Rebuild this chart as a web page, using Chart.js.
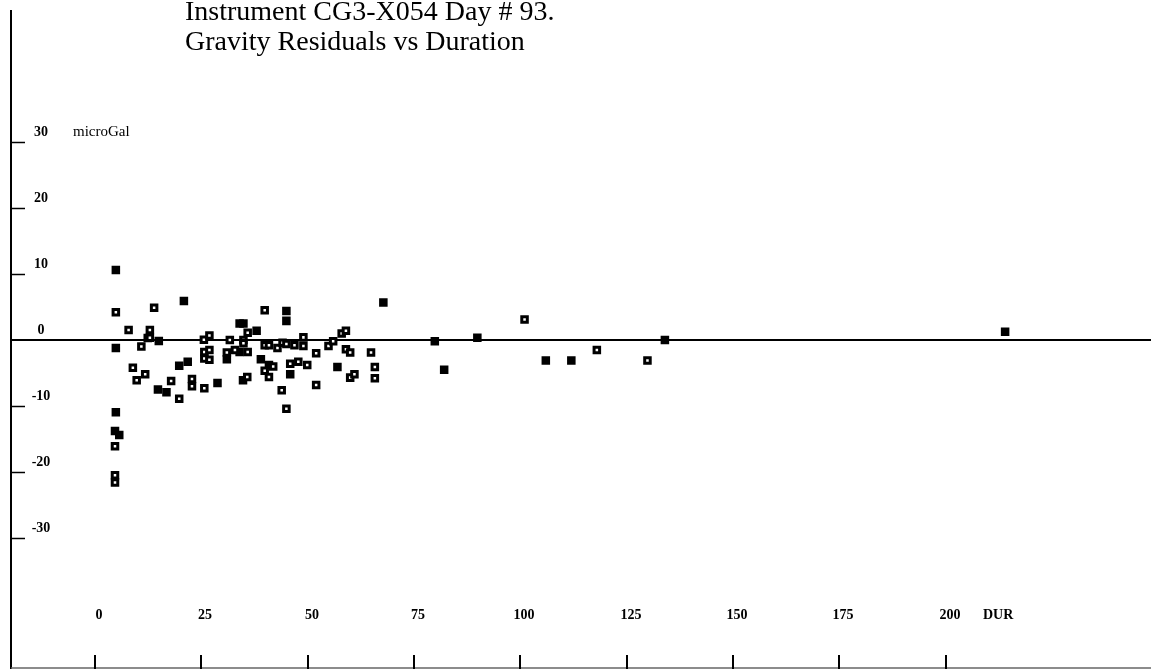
<!DOCTYPE html>
<html>
<head>
<meta charset="utf-8">
<script src="https://cdn.jsdelivr.net/npm/chart.js@4"></script>
<style>
  html, body { margin: 0; padding: 0; background: #fff; }
  #wrap { width: 1151px; height: 669px; }
</style>
</head>
<body>
<div id="wrap"><canvas id="residChart" width="1151" height="669"></canvas></div>
<script>
// Gravity residuals (microGal) vs duration
const openDur = [4.9, 7.9, 12.9, 13.9, 10.9, 12.9, 8.9, 9.8, 11.8, 17.9, 19.8, 22.8, 22.8, 25.7, 25.7, 26.9, 25.7, 26.9, 25.6, 26.9,
  31.0, 32.9, 35.9, 35.9, 34.9, 34.9, 39.9, 35.8, 39.9, 41.9, 40.9, 39.9, 40.9, 42.9, 43.9, 45.0, 44.1, 45.0, 46.9, 45.9,
  47.8, 49.0, 49.0, 49.9, 52.0, 52.0, 54.9, 56.0, 58.0, 59.0, 59.0, 60.0, 60.0, 61.0, 64.9, 65.8, 65.8, 101.0, 118.0, 129.9,
  31.7, 4.7, 4.7, 4.7];
const openRes = [4.2, 1.5, 1.5, 4.9, -1.0, 0.35, -4.2, -6.1, -5.2, -6.2, -8.9, -5.9, -7.0, -7.3, -1.8, -1.5, -2.8, -3.0, 0.05, 0.7,
  -1.9, -1.5, -1.8, 1.1, 0.0, -0.5, 4.5, -5.6, -4.65, -4.0, -5.6, -0.8, -0.8, -1.2, -7.6, -10.4, -0.4, -0.6, -0.8, -3.6,
  -3.3, 0.4, -0.9, -3.8, -2.0, -6.8, -0.9, -0.2, 1.0, 1.4, -1.4, -1.9, -5.7, -5.2, -1.9, -4.1, -5.8, 3.1, -1.5, -3.1,
  0.0, -16.1, -20.5, -21.6];

const solidDur = [4.9, 20.9, 4.9, 14.8, 16.8, 19.8, 21.8, 28.8, 34.0, 34.9, 38.0, 45.0, 45.0, 34.8, 39.0, 45.9, 57.0, 67.8, 79.9, 82.1,
  89.9, 106.0, 112.0, 134.0, 214.0, 4.9, 4.7, 5.7, 34.0, 31.0, 12.4, 15.0, 40.9];
const solidRes = [10.6, 5.9, -1.2, -7.5, -7.9, -3.9, -3.3, -6.5, 2.5, 2.5, 1.4, 4.4, 2.9, -6.1, -2.9, -5.2, -4.1, 5.7, -0.2, -4.5,
  0.35, -3.1, -3.1, 0.0, 1.25, -10.95, -13.8, -14.4, -1.8, -2.9, 0.3, -0.15, -3.8];

const xTicks = [0, 25, 50, 75, 100, 125, 150, 175, 200];
const yTicks = [30, 20, 10, -10, -20, -30];
const yLabels = [30, 20, 10, 0, -10, -20, -30];

const titleLines = ['Instrument CG3-X054 Day # 93.', 'Gravity Residuals vs Duration'];

function toPoints(xs, ys) {
  return xs.map((x, i) => ({ x: x, y: ys[i] }));
}

// axes, ticks and labels are drawn by hand so they can sit where the old plotter put them
const plotterAxes = {
  id: 'plotterAxes',
  beforeDatasetsDraw(chart) {
    const ctx = chart.ctx;
    const xs = chart.scales.x;
    const ys = chart.scales.y;
    const axisX = 11;
    const zeroY = ys.getPixelForValue(0);

    ctx.save();
    ctx.strokeStyle = '#000';
    ctx.fillStyle = '#000';

    // vertical axis
    ctx.lineWidth = 2;
    ctx.beginPath();
    ctx.moveTo(axisX, 10);
    ctx.lineTo(axisX, 669);
    ctx.stroke();

    // zero line
    ctx.lineWidth = 2;
    ctx.beginPath();
    ctx.moveTo(axisX, zeroY);
    ctx.lineTo(1151, zeroY);
    ctx.stroke();

    // y tick marks
    ctx.lineWidth = 1.5;
    yTicks.forEach(v => {
      const py = Math.round(ys.getPixelForValue(v)) + 0.5;
      ctx.beginPath();
      ctx.moveTo(axisX, py);
      ctx.lineTo(25, py);
      ctx.stroke();
    });

    ctx.font = 'bold 14px "Liberation Serif", serif';
    ctx.textAlign = 'center';
    ctx.textBaseline = 'bottom';
    yLabels.forEach(v => {
      const py = ys.getPixelForValue(v);
      ctx.fillText(String(v), 41, py - 3);
    });

    ctx.font = '15px "Liberation Serif", serif';
    ctx.textAlign = 'left';
    ctx.fillText('microGal', 73, ys.getPixelForValue(30) - 2);

    // bottom baseline
    ctx.strokeStyle = '#666';
    ctx.lineWidth = 1.5;
    ctx.beginPath();
    ctx.moveTo(axisX, 668);
    ctx.lineTo(1151, 668);
    ctx.stroke();

    // x tick marks and labels
    ctx.strokeStyle = '#000';
    ctx.lineWidth = 2;
    ctx.font = 'bold 14px "Liberation Serif", serif';
    ctx.textAlign = 'center';
    ctx.textBaseline = 'alphabetic';
    xTicks.forEach(v => {
      const px = Math.round(xs.getPixelForValue(v));
      ctx.beginPath();
      ctx.moveTo(px, 655);
      ctx.lineTo(px, 669);
      ctx.stroke();
      ctx.fillText(String(v), px + 4, 619);
    });
    ctx.textAlign = 'left';
    ctx.fillText('DUR', 983, 619);

    // title
    ctx.font = '28px "Liberation Serif", serif';
    ctx.textAlign = 'left';
    ctx.fillText(titleLines[0], 185, 20);
    ctx.fillText(titleLines[1], 185, 50);
    ctx.restore();
  }
};

const residConfig = {
  type: 'scatter',
  data: {
    datasets: [
      {
        label: 'open',
        data: toPoints(openDur, openRes),
        pointStyle: 'rect',
        pointRadius: 3.9,
        borderWidth: 3,
        borderColor: '#000',
        backgroundColor: '#fff'
      },
      {
        label: 'solid',
        data: toPoints(solidDur, solidRes),
        pointStyle: 'rect',
        pointRadius: 3.9,
        borderWidth: 3,
        borderColor: '#000',
        backgroundColor: '#000'
      }
    ]
  },
  options: {
    responsive: false,
    animation: false,
    devicePixelRatio: 1,
    layout: { padding: 0, autoPadding: false },
    scales: {
      x: { type: 'linear', display: false, min: -22.34, max: 248.3 },
      y: { type: 'linear', display: false, min: -49.85, max: 51.52 }
    },
    plugins: {
      legend: { display: false },
      tooltip: { enabled: false },
      title: { display: false }
    }
  },
  plugins: [plotterAxes]
};

new Chart(document.getElementById('residChart'), residConfig);
</script>
</body>
</html>
